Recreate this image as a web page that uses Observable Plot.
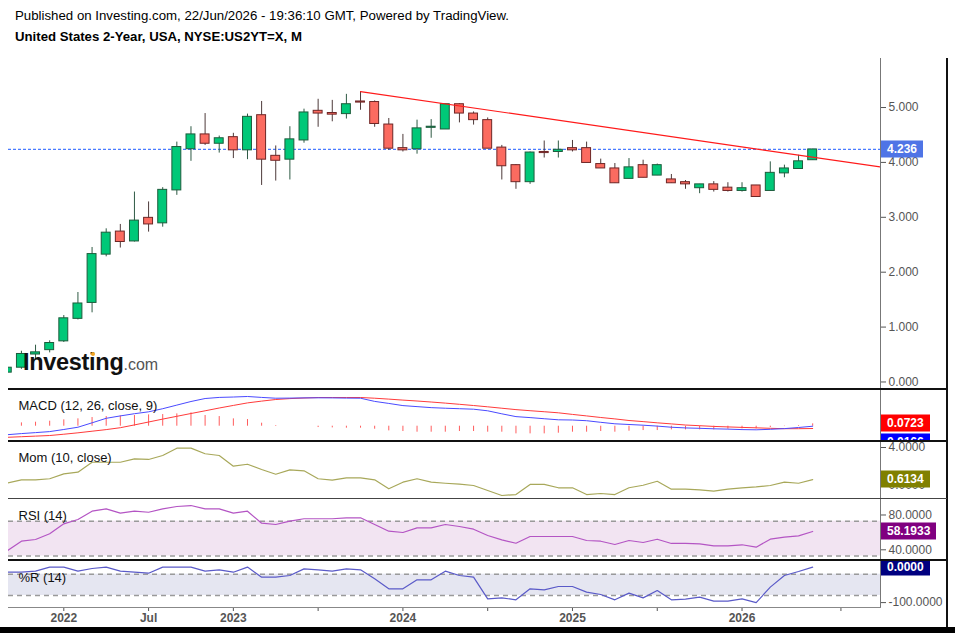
<!DOCTYPE html>
<html><head><meta charset="utf-8">
<script src="https://cdn.jsdelivr.net/npm/d3@7"></script>
<script src="https://cdn.jsdelivr.net/npm/@observablehq/plot@0.6"></script>
<style>
body{margin:0;background:#fff;font-family:"Liberation Sans",Arial,sans-serif;}
#root{position:relative;width:955px;height:633px;overflow:hidden;background:#fff;}
.abs{position:absolute;}
.panel{position:absolute;left:0;width:955px;overflow:hidden;}
.box{position:absolute;left:880px;height:17px;line-height:17px;padding:0 6px 0 7px;color:#fff;font-weight:bold;font-size:12px;white-space:nowrap;transform:translateY(-50%);}
.t1{position:absolute;left:15px;top:9px;font-size:13.25px;line-height:13px;color:#000;white-space:nowrap;}
.t2{position:absolute;left:15px;top:30px;font-size:13.2px;line-height:13px;font-weight:bold;color:#000;white-space:nowrap;}
.logo{position:absolute;left:23px;top:350px;white-space:nowrap;line-height:24px;}
.logo .a{font-size:23.5px;font-weight:bold;color:#111;letter-spacing:-0.3px;}
.logo .b{font-size:16px;color:#555;}
</style></head>
<body>
<div id="root">
  <div class="t1">Published on Investing.com, 22/Jun/2026 - 19:36:10 GMT, Powered by TradingView.</div>
  <div class="t2">United States 2-Year, USA, NYSE:US2YT=X, M</div>
</div>
<script>
// ---------------- DATA ----------------
const months = ["2021-09","2021-10","2021-11","2021-12",
"2022-01","2022-02","2022-03","2022-04","2022-05","2022-06","2022-07","2022-08","2022-09","2022-10","2022-11","2022-12",
"2023-01","2023-02","2023-03","2023-04","2023-05","2023-06","2023-07","2023-08","2023-09","2023-10","2023-11","2023-12",
"2024-01","2024-02","2024-03","2024-04","2024-05","2024-06","2024-07","2024-08","2024-09","2024-10","2024-11","2024-12",
"2025-01","2025-02","2025-03","2025-04","2025-05","2025-06","2025-07","2025-08","2025-09","2025-10","2025-11","2025-12",
"2026-01","2026-02","2026-03","2026-04","2026-05","2026-06"];
const open = [0.17,0.26,0.50,0.58,
0.74,1.15,1.44,2.32,2.74,2.56,2.99,2.89,3.49,4.24,4.51,4.34,
4.46,4.22,4.86,4.12,4.05,4.40,4.94,4.90,4.88,5.11,5.10,4.69,
4.26,4.24,4.63,4.60,5.06,4.89,4.77,4.27,3.95,3.64,4.19,4.19,
4.26,4.26,3.97,3.89,3.70,3.95,3.76,3.69,3.64,3.53,3.60,3.54,
3.48,3.58,3.48,3.80,3.88,4.04];
const high = [0.28,0.56,0.67,0.75,
1.21,1.63,2.45,2.79,2.87,3.46,3.28,3.54,4.37,4.65,4.89,4.48,
4.53,4.88,5.11,4.30,4.65,4.97,5.15,5.13,5.24,5.29,5.12,4.80,
4.51,4.77,4.78,5.06,5.07,4.92,4.81,4.31,3.96,4.19,4.39,4.39,
4.40,4.37,4.06,3.98,4.07,4.04,3.97,3.78,3.67,3.60,3.65,3.63,
3.63,3.58,4.01,3.95,4.13,4.24];
const low = [0.16,0.23,0.41,0.53,
0.72,1.13,1.26,2.28,2.44,2.55,2.73,2.82,3.40,4.02,4.31,4.17,
4.07,4.05,3.58,3.66,3.68,4.35,4.64,4.74,4.79,4.95,4.64,4.22,
4.19,4.15,4.44,4.60,4.72,4.68,4.25,3.68,3.51,3.60,4.08,4.08,
4.19,3.99,3.89,3.62,3.70,3.72,3.76,3.62,3.51,3.43,3.46,3.46,
3.46,3.37,3.48,3.72,3.88,4.04];
const close = [0.26,0.51,0.54,0.71,
1.16,1.43,2.33,2.72,2.55,2.94,2.87,3.50,4.28,4.51,4.34,4.44,
4.22,4.83,4.05,4.03,4.42,4.91,4.89,4.87,5.06,5.09,4.70,4.25,
4.22,4.62,4.65,5.06,4.89,4.77,4.25,3.93,3.64,4.18,4.17,4.23,
4.22,3.99,3.89,3.62,3.91,3.72,3.95,3.62,3.60,3.60,3.50,3.48,
3.53,3.37,3.81,3.89,4.02,4.236];

const macdLine = [-0.243,-0.211,-0.183,-0.154,
-0.094,-0.029,0.097,0.226,0.294,0.357,0.411,0.500,0.603,0.706,0.791,0.823,
0.834,0.849,0.823,0.800,0.803,0.809,0.811,0.809,0.803,0.800,0.709,0.651,
0.589,0.560,0.531,0.514,0.500,0.486,0.440,0.354,0.274,0.246,0.214,0.183,
0.177,0.157,0.111,0.069,0.049,0.029,0.003,-0.029,-0.049,-0.060,-0.074,-0.083,
-0.097,-0.103,-0.089,-0.069,-0.037,0.000];
const signalLine = [-0.317,-0.300,-0.283,-0.266,
-0.229,-0.189,-0.143,-0.097,-0.043,0.037,0.120,0.203,0.283,0.363,0.440,0.520,
0.594,0.666,0.717,0.763,0.789,0.806,0.820,0.820,0.820,0.820,0.800,0.774,
0.746,0.720,0.691,0.660,0.626,0.591,0.554,0.514,0.474,0.443,0.414,0.383,
0.337,0.294,0.249,0.209,0.163,0.131,0.097,0.066,0.034,0.014,-0.006,-0.020,
-0.034,-0.046,-0.060,-0.071,-0.071,-0.066];
const macdHist = [0.080,0.095,0.114,0.143,
0.181,0.210,0.248,0.276,0.295,0.305,0.324,0.333,0.352,0.381,0.305,0.276,
0.210,0.190,0.086,0.019,0,0,-0.038,-0.048,-0.057,-0.057,-0.086,-0.133,
-0.152,-0.171,-0.171,-0.171,-0.152,-0.152,-0.171,-0.171,-0.219,-0.219,-0.219,-0.200,
-0.171,-0.171,-0.152,-0.171,-0.143,-0.124,-0.124,-0.105,-0.105,-0.105,-0.105,-0.086,
-0.076,-0.076,-0.038,-0.010,0.019,0.067];
const momentum = [0.26,0.60,0.60,0.71,
1.23,1.40,2.45,2.45,2.45,2.81,2.74,3.16,3.93,3.93,3.34,3.16,
2.03,2.24,1.68,1.19,1.65,1.55,0.71,0.56,0.81,0.81,0.60,-0.35,
0.35,0.71,0.35,0.24,0.14,0.00,-0.53,-1.05,-0.95,0.11,0.11,-0.24,
-0.24,-0.95,-0.84,-0.95,-0.24,0.03,0.45,-0.39,-0.39,-0.45,-0.60,-0.39,
-0.24,-0.14,0.00,0.35,0.24,0.6134];
const rsi = [36.0,47.0,49.0,55.5,
67.0,72.0,81.5,84.2,79.2,81.5,80.3,84.2,86.9,88.0,84.2,84.2,
79.2,81.5,67.7,66.2,70.0,72.8,72.8,72.8,73.9,73.9,66.2,58.5,
57.0,62.4,62.4,66.2,63.9,60.8,53.6,48.6,44.7,52.4,52.4,52.4,
52.4,47.8,47.0,43.2,47.8,45.5,49.3,44.4,44.4,44.0,41.7,41.7,
42.9,40.1,49.3,51.6,53.2,58.1933];
const williamsR = [-14.4,-14.4,-11.5,0,
0,-11.5,-3.9,0,-11.5,-14.4,-17.2,0,0,0,-11.5,-7.7,
-14.4,0,-28.4,-28.4,-23.7,-4.9,-7.7,-11.5,-4.9,-7.7,-33.1,-61.2,
-61.2,-35.9,-35.9,-11.5,-23.7,-28.4,-89.4,-86.6,-92.2,-61.2,-64.0,-54.6,
-54.6,-70.6,-77.2,-92.2,-73.4,-86.6,-65.9,-92.2,-90.3,-84.7,-96.0,-96.0,
-89.4,-100,-56.5,-23.7,-12.4,0];

const trendMonths = ["2023-10","2026-11"];
const trendValues = [5.29, 3.91];
const priceTicks = [0,1,2,3,4,5];
const momTicks = [0,4];
const rsiTicks = [40,80];
const rsiBands = [30,70];
const wrTicks = [-100,0];
const wrBands = [-80,-20];
const timeTicks = ["2022-01","2022-07","2023-01","2023-07","2024-01","2024-07","2025-01","2025-07","2026-01","2026-08"];
const timeTickLabels = ["2022","Jul","2023","","2024","","2025","","2026",""];
const macdLabels = ["0.0723","0.0166"];

// ---------------- BUILD ----------------
const mi = s => { const [y,m] = s.split("-").map(Number); return (y-2022)*12 + (m-1); };
const X = {domain:[-3.914, 57.80]};
const FONT = "'Liberation Sans', Arial, sans-serif";
const root = document.getElementById("root");

function panel(top, h, ydom, marks){
  const div = document.createElement("div");
  div.className = "panel";
  div.style.top = top + "px"; div.style.height = h + "px";
  const chart = Plot.plot({
    width:955, height:h, marginLeft:8, marginRight:75, marginTop:0, marginBottom:0,
    x:{...X, axis:null}, y:{domain:ydom, axis:null, label:null},
    style:{fontFamily:FONT, fontSize:"12px", color:"#555", background:"transparent"},
    marks
  });
  div.appendChild(chart);
  root.appendChild(div);
  return {div, chart, top};
}
function box(p, value, text, bg, yOverride){
  const b = document.createElement("div");
  b.className = "box";
  b.style.background = bg;
  const y = yOverride !== undefined ? yOverride : p.chart.scale("y").apply(value);
  b.style.top = y + "px";
  b.textContent = text;
  p.div.appendChild(b);
  return b;
}
function title(t, dy){
  return Plot.text([t], {frameAnchor:"top-left", textAnchor:"start", lineAnchor:"middle", dx:10, dy, fill:"#111", fontSize:13});
}
const yAxis = (ticks, digits, extra={}) => Plot.axisY({anchor:"right", label:null, ticks, tickFormat:d=>d.toFixed(digits), tickSize:5, tickPadding:3, ...extra});

const candles = months.map((m,k)=>({i:mi(m), o:open[k], h:high[k], l:low[k], c:close[k]}));
const UP="#00c878", DN="#fb6b60", UPB="#1d5c3c", DNB="#6e2626", UPW="#2e5a44", DNW="#4d3a3a";
const ind = months.map((m,k)=>({i:mi(m), macd:macdLine[k], sig:signalLine[k], hist:macdHist[k], mom:momentum[k], rsi:rsi[k], wr:williamsR[k]}));
const trend = trendMonths.map((m,k)=>({i:mi(m), v:trendValues[k]}));
const last = close[close.length-1];

// main price panel
const main = panel(58, 331, [-0.137, 5.893], [
  Plot.ruleY([last], {stroke:"#4a7bff", strokeDasharray:"3,2", strokeWidth:1.2}),
  Plot.ruleX(candles, {x:"i", y1:"l", y2:"h", stroke:d=>d.c>=d.o?UPW:DNW, strokeWidth:1, clip:true}),
  Plot.rect(candles, {x1:d=>d.i-0.5, x2:d=>d.i+0.5, insetLeft:2.6, insetRight:2.6, y1:"o", y2:"c",
    fill:d=>d.c>=d.o?UP:DN, stroke:d=>d.c>=d.o?UPB:DNB, strokeWidth:1, clip:true}),
  Plot.line(trend, {x:"i", y:"v", stroke:"#ff1a1a", strokeWidth:1.2, clip:true}),
  yAxis(priceTicks, 3)
]);
box(main, last, last.toFixed(3), "#4f74e6");

// logo
const logo = document.createElement("div");
logo.className = "logo";
logo.innerHTML = '<span class="a">Investing</span><span class="b">.com</span>';
root.appendChild(logo);
const dot = document.createElement("div");
dot.className = "abs";
Object.assign(dot.style, {left:"91px", top:"352px", width:"4px", height:"4px", borderRadius:"2px", background:"#f5a623"});
root.appendChild(dot);

// MACD
const macdP = panel(389, 52, [-0.437, 1.049], [
  Plot.ruleX(ind, {x:"i", y1:0, y2:"hist", stroke:"#ff5c5c", strokeWidth:1, clip:true}),
  Plot.line(ind, {x:"i", y:"sig", stroke:"#ff3b3b", strokeWidth:1, clip:true}),
  Plot.line(ind, {x:"i", y:"macd", stroke:"#4a4aff", strokeWidth:1, clip:true}),
  title("MACD (12, 26, close, 9)", 16.7)
]);
const yRed = macdP.chart.scale("y").apply(Number(macdLabels[0]));
box(macdP, null, macdLabels[0], "#ff0000", yRed);
box(macdP, null, macdLabels[1], "#0000ff", yRed + 18.5);

// Momentum
const momP = panel(441, 57, [-1.368, 4.632], [
  Plot.line(ind, {x:"i", y:"mom", stroke:"#a8a85a", strokeWidth:1.2, clip:true}),
  yAxis(momTicks, 4),
  title("Mom (10, close)", 16.3)
]);
box(momP, momentum[momentum.length-1], momentum[momentum.length-1].toFixed(4), "#808000");

// RSI
const rsiP = panel(498, 62, [24.83, 96.09], [
  Plot.rectY([rsiBands], {y1:d=>d[0], y2:d=>d[1], fill:"#f2e4f2"}),
  Plot.ruleY(rsiBands, {stroke:"#9a9a9a", strokeDasharray:"5,4", strokeWidth:1.5}),
  Plot.line(ind, {x:"i", y:"rsi", stroke:"#b455c4", strokeWidth:1.2, clip:true}),
  yAxis(rsiTicks, 4, {dy:2.5}),
  title("RSI (14)", 17)
]);
box(rsiP, rsi[rsi.length-1], rsi[rsi.length-1].toFixed(4), "#800080");

// Williams %R
const wrP = panel(560, 47, [-113.8, 18.59], [
  Plot.rectY([wrBands], {y1:d=>d[0], y2:d=>d[1], fill:"#e5e6f1"}),
  Plot.ruleY(wrBands, {stroke:"#9a9a9a", strokeDasharray:"5,4", strokeWidth:1.5}),
  Plot.line(ind, {x:"i", y:"wr", stroke:"#5a5ac8", strokeWidth:1.2, clip:true}),
  yAxis(wrTicks, 4),
  title("%R (14)", 17.3)
]);
box(wrP, williamsR[williamsR.length-1], williamsR[williamsR.length-1].toFixed(4), "#000080");

// time axis
const tIdx = timeTicks.map(mi);
const axDiv = document.createElement("div");
axDiv.className = "panel"; axDiv.style.top = "607px"; axDiv.style.height = "20px";
axDiv.appendChild(Plot.plot({
  width:955, height:20, marginLeft:8, marginRight:75, marginTop:0, marginBottom:20,
  x:{...X, label:null}, style:{fontFamily:FONT, fontSize:"12px", fontWeight:"bold", color:"#555", background:"transparent"},
  marks:[Plot.axisX({anchor:"bottom", label:null, ticks:tIdx, tickFormat:d=>timeTickLabels[tIdx.indexOf(d)], tickSize:4, tickPadding:2})]
}));
root.appendChild(axDiv);

// chrome lines
function line(l,t,w,h,c){ const d=document.createElement("div"); d.className="abs";
  Object.assign(d.style,{left:l+"px",top:t+"px",width:w+"px",height:h+"px",background:c}); root.appendChild(d); }
line(880,58,1,549,"#777");
line(946,58,1.5,569,"#111");
line(8,388,939,2,"#111");
line(8,439.5,939,2,"#111");
line(8,497.5,939,1.3,"#444");
line(8,559,939,2,"#111");
line(8,607,873,1,"#888");
line(0,627,955,6,"#000");
</script>
</body></html>
